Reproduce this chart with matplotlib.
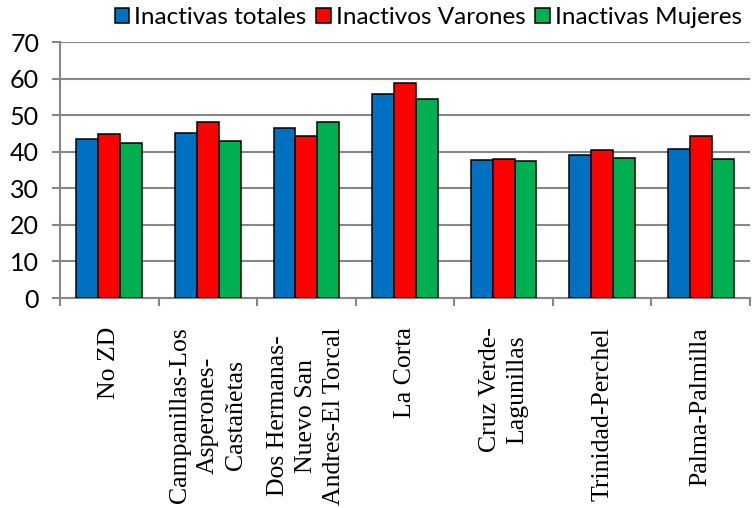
import matplotlib
matplotlib.use('Agg')
import matplotlib.pyplot as plt
import numpy as np

# categorias (zonas) y series
zonas = ['No ZD', 'Campanillas-Los\nAsperones-\nCastañetas', 'Dos Hermanas-\nNuevo San\nAndres-El Torcal',
         'La Corta', 'Cruz Verde-\nLagunillas', 'Trinidad-Perchel', 'Palma-Palmilla']
inactivasTotales = [43.4, 45.0, 46.6, 55.9, 37.6, 39.2, 40.7]
inactivosVarones = [44.9, 48.0, 44.2, 58.9, 37.9, 40.4, 44.3]
inactivasMujeres = [42.4, 42.8, 48.2, 54.3, 37.5, 38.3, 37.9]
nombres = ['Inactivas totales', 'Inactivos Varones', 'Inactivas Mujeres']
colores = ['#0070C0', '#FF0000', '#00B050']
yticks = [0, 10, 20, 30, 40, 50, 60, 70]

fig = plt.figure(figsize=(7.54, 5.08), dpi=100)
ax = fig.add_axes([60/754, 1-298/508, 690/754, 256/508])

x = np.arange(len(zonas))
w = 0.222
series = [inactivasTotales, inactivosVarones, inactivasMujeres]
for i, s in enumerate(series):
    ax.bar(x + (i-1)*w, s, w, color=colores[i], edgecolor='black', linewidth=1.1,
           label=nombres[i], zorder=3)

ax.set_xlim(-0.5, len(zonas)-0.5)
ax.set_ylim(0, 70)
ax.set_yticks(yticks)
ax.set_yticklabels([str(v) for v in yticks], fontsize=18, family='Lato')
ax.yaxis.grid(True, color='#878787', linewidth=1.5, zorder=0)

ax.set_xticks(x)
ax.set_xticklabels(zonas, rotation=90, fontsize=18.5, family='Liberation Serif',
                   va='top', ha='center', linespacing=1.35)
ax.tick_params(axis='x', which='major', length=0, pad=21)
ax.set_xticks(np.arange(-0.5, len(zonas)), minor=True)
ax.tick_params(axis='x', which='minor', length=6, width=1.5, color='#878787')
ax.tick_params(axis='y', length=6, width=1.5, color='#878787', pad=9)

for side in ['top', 'right']:
    ax.spines[side].set_visible(False)
for side in ['left', 'bottom']:
    ax.spines[side].set_color('#878787')
    ax.spines[side].set_linewidth(1.5)

leg = fig.legend(loc='upper right', bbox_to_anchor=(1.003, 1.015), ncol=3, frameon=False,
                 prop={'family': 'Lato', 'size': 17.5}, handlelength=0.6, handleheight=0.6,
                 handletextpad=0.2, columnspacing=0.4, borderaxespad=0.2)

plt.savefig('out.png', dpi=100)
